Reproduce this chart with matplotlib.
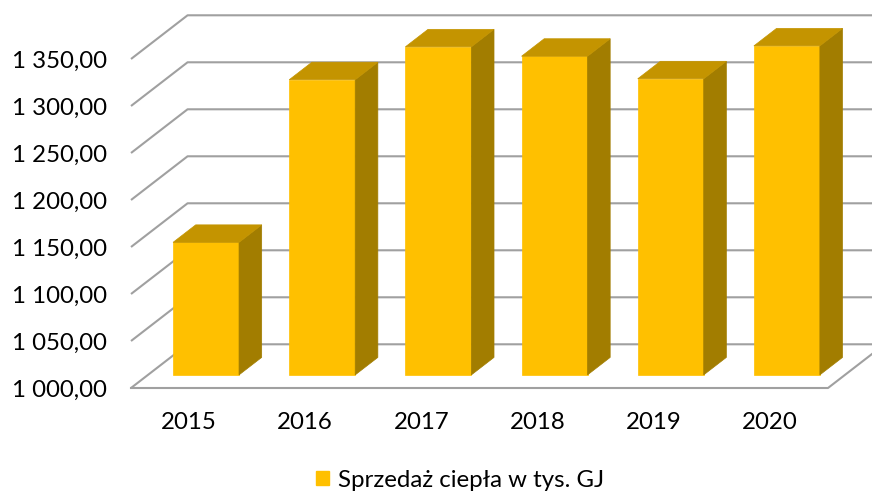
import matplotlib
matplotlib.use("Agg")
import matplotlib.pyplot as plt
from matplotlib.patches import Polygon, Patch

plt.rcParams['font.family'] = ['Lato', 'DejaVu Sans']

years = ["2015", "2016", "2017", "2018", "2019", "2020"]
values = [1141, 1314, 1349, 1339, 1315, 1350]
series_name = "Sprzedaż ciepła w tys. GJ"
y_ticks = [1000, 1050, 1100, 1150, 1200, 1250, 1300, 1350]
y_tick_labels = ["1 000,00", "1 050,00", "1 100,00", "1 150,00",
                 "1 200,00", "1 250,00", "1 300,00", "1 350,00"]

FRONT = "#FFC000"
TOP = "#C49400"
SIDE = "#A27D00"
GRID = "#A0A0A0"
FS = 17.3

W, H = 872, 494
fig = plt.figure(figsize=(W / 100, H / 100), dpi=100)
ax = fig.add_axes([131 / W, (H - 388) / H, 697 / W, 329 / H])
n = len(years)
ax.set_xlim(-0.5, n - 0.5)
ax.set_ylim(1000, 1350)

# oblique depth offsets (data units per full depth)
DX = 0.487
DY = 46.5

def P(x, v, d):
    return (x + d * DX, v + d * DY)

# gridlines on side/back wall
for v in y_ticks:
    pts = [P(-0.5, v, 0), P(-0.5, v, 1), P(n - 0.5, v, 1)]
    xs, ys = zip(*pts)
    ax.plot(xs, ys, color=GRID, lw=1.5, clip_on=False, zorder=1, solid_capstyle='butt')
# floor outline
floor = [P(-0.5, 1000, 0), P(n - 0.5, 1000, 0), P(n - 0.5, 1000, 1)]
xs, ys = zip(*floor)
ax.plot(xs, ys, color=GRID, lw=1.5, clip_on=False, zorder=1)

# bars
bw = 0.568
d0, d1 = 0.3, 0.7
for i, v in enumerate(values):
    x0, x1 = i - bw / 2, i + bw / 2
    front = [P(x0, 1000, d0), P(x1, 1000, d0), P(x1, v, d0), P(x0, v, d0)]
    side = [P(x1, 1000, d0), P(x1, 1000, d1), P(x1, v, d1), P(x1, v, d0)]
    top = [P(x0, v, d0), P(x1, v, d0), P(x1, v, d1), P(x0, v, d1)]
    for poly, c in ((front, FRONT), (side, SIDE), (top, TOP)):
        ax.add_patch(Polygon(poly, closed=True, facecolor=c, edgecolor=c,
                             lw=0.5, clip_on=False, zorder=3))

ax.set_yticks(y_ticks)
ax.set_yticklabels(y_tick_labels)
ax.set_xticks(range(n))
ax.set_xticklabels(years)
ax.tick_params(axis='both', length=0, labelsize=FS, colors='black')
ax.tick_params(axis='y', pad=17.5)
ax.tick_params(axis='x', pad=17.5)
for s in ax.spines.values():
    s.set_visible(False)
ax.patch.set_visible(False)

fig.legend(handles=[Patch(facecolor=FRONT, edgecolor=FRONT)], labels=[series_name],
           loc='center', bbox_to_anchor=(460 / W, 1 - 480 / H), frameon=False,
           fontsize=FS, handlelength=0.55, handleheight=0.55, handletextpad=0.4)

fig.savefig("out.png", dpi=100)
